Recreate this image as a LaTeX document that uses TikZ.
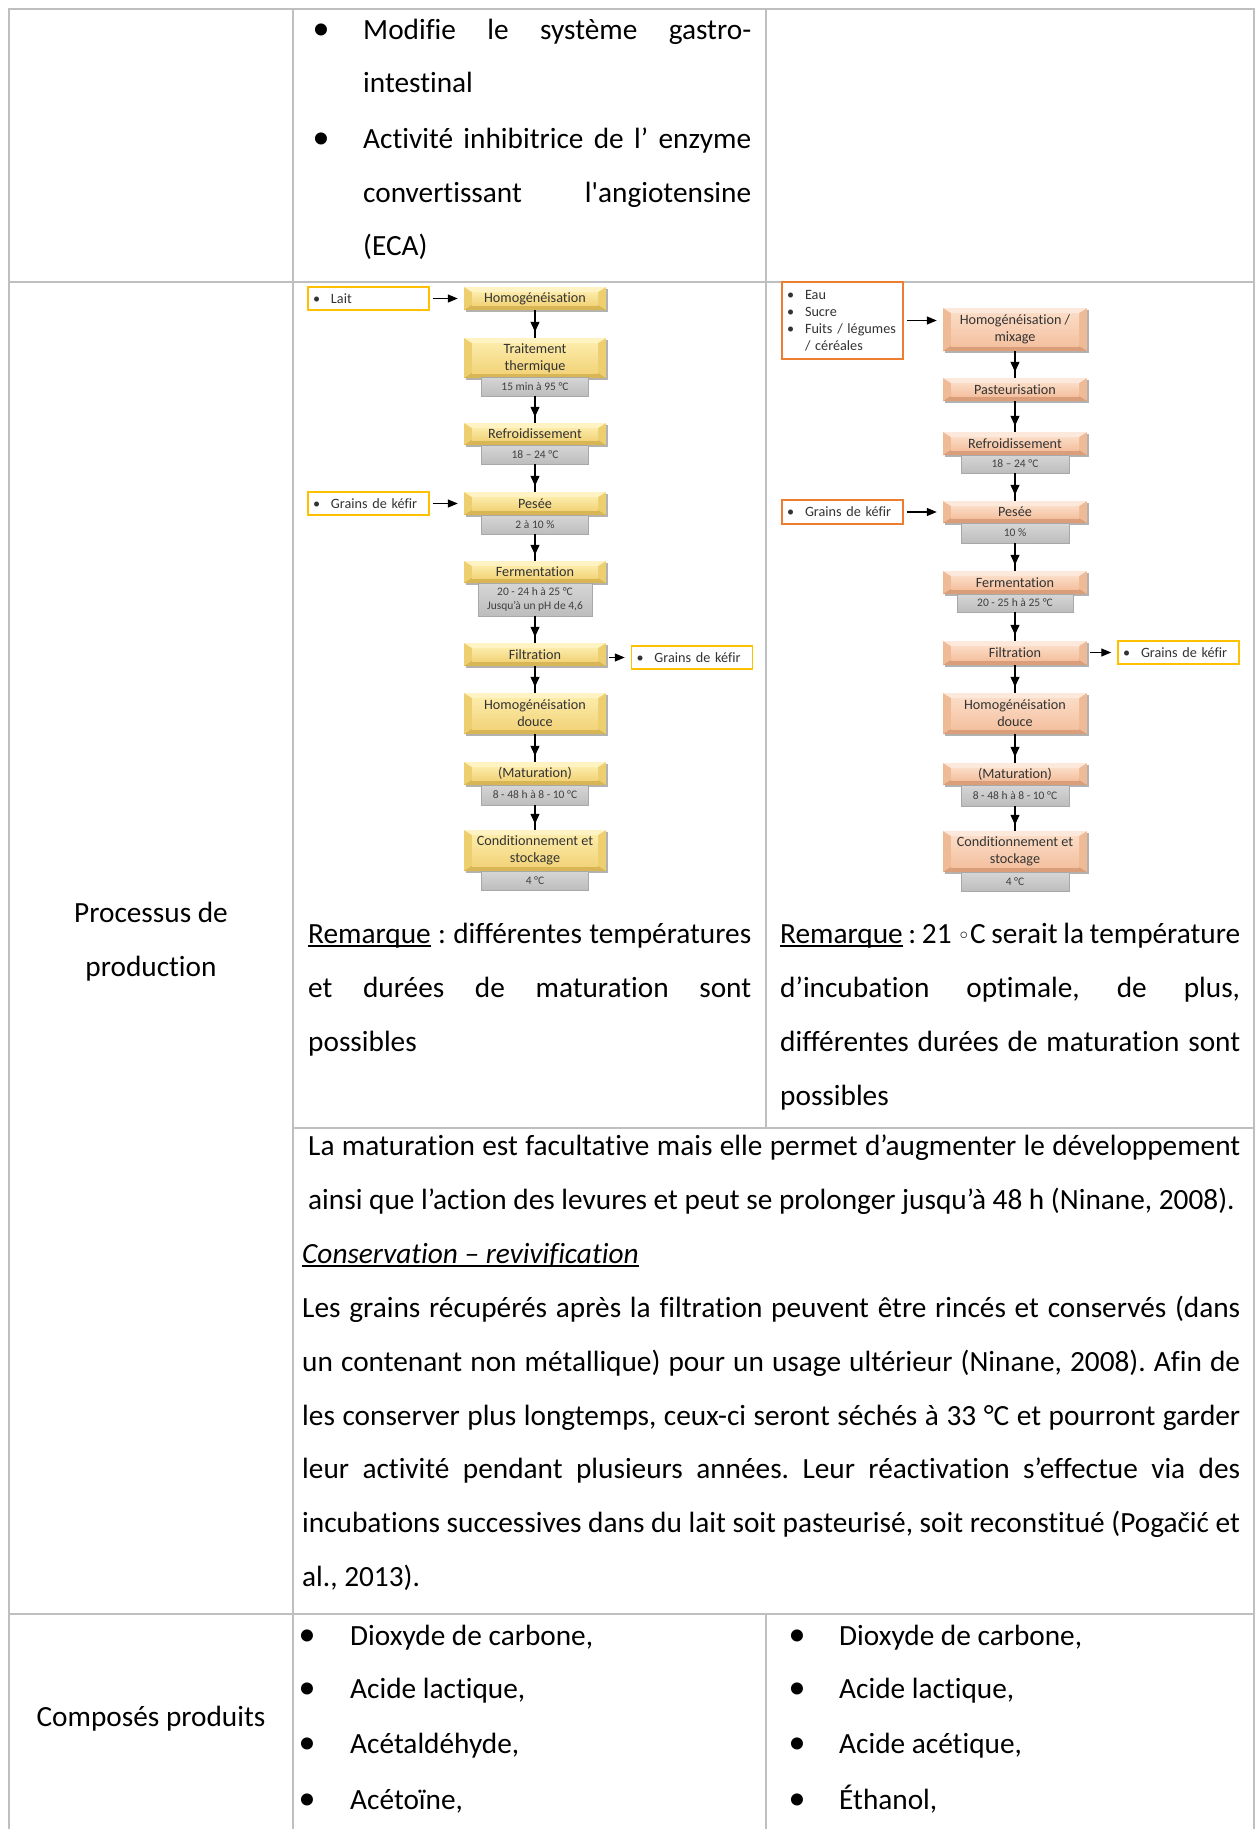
\documentclass[tikz,border=0pt]{standalone}
\usepackage{fontspec}
\setmainfont{Carlito}[Ligatures={TeXOff,CommonOff}]
\newfontfamily\dejavu{DejaVu Sans}
\usetikzlibrary{arrows.meta,shadows,calc}
\frenchspacing

\definecolor{tline}{HTML}{BFBFBF}
\definecolor{ftxt}{HTML}{333333}
\definecolor{gtxt}{HTML}{404040}
\definecolor{yel}{HTML}{FFC000}
\definecolor{ora}{HTML}{ED7D31}
\definecolor{yside}{HTML}{EDCF70}
\definecolor{ytop}{HTML}{FFF3C4}
\definecolor{ybot}{HTML}{D9B655}
\definecolor{yinA}{HTML}{FCEBA9}
\definecolor{yinB}{HTML}{F2D47A}
\definecolor{pside}{HTML}{EFBB97}
\definecolor{ptop}{HTML}{FDE9DB}
\definecolor{pbot}{HTML}{DA9F7A}
\definecolor{pinA}{HTML}{FBDCC6}
\definecolor{pinB}{HTML}{F4C1A0}
\definecolor{gtop}{HTML}{D6D6D6}
\definecolor{gbot}{HTML}{BDBDBD}
\definecolor{gbord}{HTML}{A8A8A8}

\newcommand{\fs}[2]{\fontsize{#1pt}{#2pt}\selectfont}
\newsavebox{\ulbox}
\newcommand{\ulx}[1]{\sbox{\ulbox}{#1}\rlap{\rule[-4pt]{\wd\ulbox}{1.6pt}}\usebox{\ulbox}}

\newcommand{\bevelpic}[5]{%
 \coordinate (bnw) at (path picture bounding box.north west);
 \coordinate (bse) at (path picture bounding box.south east);
 \coordinate (inw) at ($(bnw)+(8,5)$);
 \coordinate (ise) at ($(bse)+(-8,-5)$);
 \fill[#1] (bnw) rectangle (bse);
 \fill[#2] (bnw) -- (bnw-|bse) -- (inw-|ise) -- (inw) -- cycle;
 \fill[#3] (bse) -- (bse-|bnw) -- (ise-|inw) -- (ise) -- cycle;
 \shade[top color=#4, bottom color=#5] (inw) rectangle (ise);
}

\tikzset{
 tx/.style={anchor=base west, inner sep=0pt, font=\fs{29.3}{53.7}},
 txc/.style={anchor=base, inner sep=0pt, font=\fs{29.3}{53.7}},
 bul/.style={anchor=base, inner sep=0pt, font=\fs{34}{34}},
 stepY/.style={minimum width=142pt, inner sep=1pt, align=center, font=\fs{14.2}{17}, text=ftxt,
   fill=yside, path picture={\bevelpic{yside}{ytop}{ybot}{yinA}{yinB}},
   drop shadow={shadow xshift=1.5pt, shadow yshift=-2pt, opacity=0.3, fill=black}},
 stepP/.style={minimum width=144pt, inner sep=1pt, align=center, font=\fs{14.2}{17}, text=ftxt,
   fill=pside, path picture={\bevelpic{pside}{ptop}{pbot}{pinA}{pinB}},
   drop shadow={shadow xshift=1.5pt, shadow yshift=-2pt, opacity=0.3, fill=black}},
 gbox/.style={minimum width=107pt, inner sep=1pt, align=center, font=\fs{11.5}{13.5}, text=gtxt,
   draw=gbord, line width=0.6pt, top color=gtop, bottom color=gbot},
 inbox/.style={line width=1.5pt, fill=white, minimum width=121pt, minimum height=23pt,
   align=left, text width=111pt, inner xsep=5pt, inner ysep=2pt, font=\fs{14.2}{17}, text=ftxt},
 inY/.style={inbox, draw=yel},
 inO/.style={inbox, draw=ora},
 vflow/.style={line width=1.2pt, draw=black,
   postaction={draw, -{Triangle[length=10pt,width=9pt]}, shorten >=6pt}},
 hflow/.style={line width=1.2pt, -{Triangle[length=10pt,width=8pt]}, shorten <=3pt, shorten >=6pt},
 hline/.style={draw=tline, line width=2pt},
 vline/.style={draw=tline, line width=1.2pt},
}

\begin{document}
\begin{tikzpicture}[x=1pt, y=-1pt]
\useasboundingbox[fill=white] (0,0) rectangle (1255,1829);

% ---------- table lines ----------
\draw[vline] (9,9) -- (9,1829);
\draw[vline] (293,9) -- (293,1829);
\draw[vline] (766,9) -- (766,1128);
\draw[vline] (766,1614) -- (766,1829);
\draw[vline] (1254,9) -- (1254,1829);
\draw[hline] (8,9) -- (1255,9);
\draw[hline] (8,282) -- (1255,282);
\draw[hline] (293,1128) -- (1255,1128);
\draw[hline] (8,1614) -- (1255,1614);

% ---------- top row ----------
\node[bul] (b1) at (321,39) {•};
\node[tx] (m1) at (363,39) {\makebox[388pt][s]{Modifie le système gastro-}};
\node[tx] (m2) at (363,92) {intestinal};
\node[bul] (b2) at (321,148) {•};
\node[tx] (m3) at (363,148) {\makebox[388pt][s]{Activité inhibitrice de l’ enzyme}};
\node[tx] (m4) at (363,202) {\makebox[388pt][s]{convertissant l'angiotensine}};
\node[tx] (m5) at (363,255) {(ECA)};

% ---------- first column ----------
\node[txc] (p1) at (151,922) {Processus de};
\node[txc] (p2) at (151,976) {production};
\node[txc] (c1) at (151,1726) {Composés produits};

% ---------- left flowchart ----------
\node[stepY, minimum height=23pt] (L1) at (535,298.5) {Homogénéisation};
\node[stepY, minimum height=40pt] (L2) at (535,358) {Traitement\\thermique};
\node[gbox, minimum height=19pt] (G2) at (535,386.5) {15 min à 95 °C};
\node[stepY, minimum height=22pt] (L3) at (535,434) {Refroidissement};
\node[gbox, minimum height=19pt] (G3) at (535,454.5) {18 – 24 °C};
\node[stepY, minimum height=23pt] (L4) at (535,503.5) {Pesée};
\node[gbox, minimum height=19pt] (G4) at (535,524.5) {2 à 10 \%};
\node[stepY, minimum height=22pt] (L5) at (535,572) {Fermentation};
\node[gbox, minimum width=114pt, minimum height=33pt] (G5) at (535,599.5) {20 - 24 h à 25 °C\\Jusqu’à un pH de 4,6};
\node[stepY, minimum height=23pt] (L6) at (535,654.5) {Filtration};
\node[stepY, minimum height=41pt] (L7) at (535,713.5) {Homogénéisation\\douce};
\node[stepY, minimum height=23pt] (L8) at (535,773.5) {(Maturation)};
\node[gbox, minimum height=20pt] (G8) at (535,795) {8 - 48 h à 8 - 10 °C};
\node[stepY, minimum height=41pt] (L9) at (535,850.5) {Conditionnement et\\stockage};
\node[gbox, minimum height=19pt] (G9) at (535,880.5) {4 °C};

\node[inY] (inL1) at (368.5,298.5) {\makebox[18pt][l]{•}Lait};
\node[inY] (inL2) at (368.5,503.5) {\makebox[18pt][l]{•}Grains de kéfir};
\node[inY] (outL) at (692,657.5) {\makebox[18pt][l]{•}Grains de kéfir};

\draw[hflow] (inL1) -- (L1);
\draw[hflow] (inL2) -- (L4);
\draw[hflow] (L6.east |- outL) -- (outL);
\draw[vflow] (L1) -- (L2);
\draw[vflow] (G2) -- (L3);
\draw[vflow] (G3) -- (L4);
\draw[vflow] (G4) -- (L5);
\draw[vflow] (G5) -- (L6);
\draw[vflow] (L6) -- (L7);
\draw[vflow] (L7) -- (L8);
\draw[vflow] (G8) -- (L9);

% ---------- right flowchart ----------
\node[stepP, minimum height=43pt] (R1) at (1015,329.5) {Homogénéisation /\\mixage};
\node[stepP, minimum height=23pt] (R2) at (1015,389.5) {Pasteurisation};
\node[stepP, minimum height=23pt] (R3) at (1015,443.5) {Refroidissement};
\node[gbox, minimum width=108pt, minimum height=18pt] (H3) at (1015,464) {18 – 24 °C};
\node[stepP, minimum height=22pt] (R4) at (1015,512) {Pesée};
\node[gbox, minimum width=108pt, minimum height=20pt] (H4) at (1015,533) {10 \%};
\node[stepP, minimum height=23pt] (R5) at (1015,582.5) {Fermentation};
\node[gbox, minimum width=116pt, minimum height=18pt] (H5) at (1015,603) {20 - 25 h à 25 °C};
\node[stepP, minimum height=24pt] (R6) at (1015,653) {Filtration};
\node[stepP, minimum height=41pt] (R7) at (1015,713.5) {Homogénéisation\\douce};
\node[stepP, minimum height=22pt] (R8) at (1015,774) {(Maturation)};
\node[gbox, minimum width=108pt, minimum height=21pt] (H8) at (1015,795.5) {8 - 48 h à 8 - 10 °C};
\node[stepP, minimum height=41pt] (R9) at (1015,851.5) {Conditionnement et\\stockage};
\node[gbox, minimum width=108pt, minimum height=19pt] (H9) at (1015,881.5) {4 °C};

\node[inO, minimum height=77pt] (eau) at (842.5,320.5)
  {\makebox[18pt][l]{•}Eau\\\makebox[18pt][l]{•}Sucre\\\makebox[18pt][l]{•}Fuits / légumes\\\hspace*{18pt}/ céréales};
\node[inO, minimum height=24pt] (inR2) at (842.5,512) {\makebox[18pt][l]{•}Grains de kéfir};
\node[inY] (outR) at (1178.5,652.5) {\makebox[18pt][l]{•}Grains de kéfir};

\draw[hflow] (eau.east) -- (eau.east -| R1.west);
\draw[hflow] (inR2) -- (R4);
\draw[hflow] (R6.east |- outR) -- (outR);
\draw[vflow] (R1) -- (R2);
\draw[vflow] (R2) -- (R3);
\draw[vflow] (H3) -- (R4);
\draw[vflow] (H4) -- (R5);
\draw[vflow] (H5) -- (R6);
\draw[vflow] (R6) -- (R7);
\draw[vflow] (R7) -- (R8);
\draw[vflow] (H8) -- (R9);

% ---------- remarks ----------
\node[tx] (rl1) at (308,943) {\makebox[443pt][s]{\ulx{Remarque} : différentes températures}};
\node[tx] (rl2) at (308,997) {\makebox[443pt][s]{et durées de maturation sont}};
\node[tx] (rl3) at (308,1051) {possibles};

\node[tx] (rr1) at (780,943) {\makebox[460pt][s]{\ulx{Remarque} : 21 {\dejavu\fs{22}{22}◦}C serait la température}};
\node[tx] (rr2) at (780,997) {\makebox[460pt][s]{d’incubation optimale, de plus,}};
\node[tx] (rr3) at (780,1051) {\makebox[460pt][s]{différentes durées de maturation sont}};
\node[tx] (rr4) at (780,1105) {possibles};

% ---------- maturation paragraph ----------
\node[tx] (q1) at (308,1155) {\makebox[932pt][s]{La maturation est facultative mais elle permet d’augmenter le développement}};
\node[tx] (q2) at (308,1209) {ainsi que l’action des levures et peut se prolonger jusqu’à 48 h (Ninane, 2008).};
\node[tx] (q3) at (302,1263) {\ulx{\textit{Conservation – revivification}}};
\node[tx] (q4) at (302,1317) {\makebox[938pt][s]{Les grains récupérés après la filtration peuvent être rincés et conservés (dans}};
\node[tx] (q5) at (302,1371) {\makebox[938pt][s]{un contenant non métallique) pour un usage ultérieur (Ninane, 2008). Afin de}};
\node[tx] (q6) at (302,1425) {\makebox[938pt][s]{les conserver plus longtemps, ceux-ci seront séchés à 33 °C et pourront garder}};
\node[tx] (q7) at (302,1478) {\makebox[938pt][s]{leur activité pendant plusieurs années. Leur réactivation s’effectue via des}};
\node[tx] (q8) at (302,1532) {\makebox[938pt][s]{incubations successives dans du lait soit pasteurisé, soit reconstitué (Pogačić et}};
\node[tx] (q9) at (302,1586) {al., 2013).};

% ---------- compounds ----------
\node[bul] (cb1) at (307,1645) {•};
\node[tx] (ct1) at (350,1645) {Dioxyde de carbone,};
\node[bul] (cb2) at (307,1698) {•};
\node[tx] (ct2) at (350,1698) {Acide lactique,};
\node[bul] (cb3) at (307,1753) {•};
\node[tx] (ct3) at (350,1753) {Acétaldéhyde,};
\node[bul] (cb4) at (307,1809) {•};
\node[tx] (ct4) at (350,1809) {Acétoïne,};

\node[bul] (db1) at (797,1645) {•};
\node[tx] (dt1) at (839,1645) {Dioxyde de carbone,};
\node[bul] (db2) at (797,1698) {•};
\node[tx] (dt2) at (839,1698) {Acide lactique,};
\node[bul] (db3) at (797,1753) {•};
\node[tx] (dt3) at (839,1753) {Acide acétique,};
\node[bul] (db4) at (797,1809) {•};
\node[tx] (dt4) at (839,1809) {Éthanol,};
\end{tikzpicture}
\end{document}
